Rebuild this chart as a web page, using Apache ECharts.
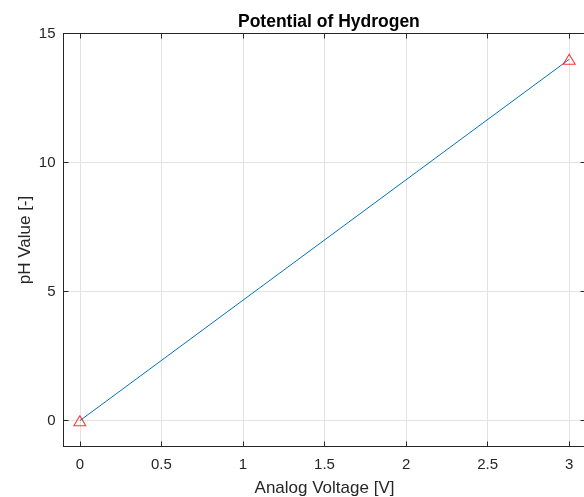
<!DOCTYPE html>
<html>
<head>
<meta charset="utf-8">
<script src="https://cdn.jsdelivr.net/npm/echarts@6/dist/echarts.min.js"></script>
<style>
    html, body { margin: 0; padding: 0; background: #fff; }
    #chart { width: 584px; height: 497px; }
</style>
</head>
<body>
<div id="chart"></div>
<script>
// measured points (analog voltage -> pH)
const voltage = [0, 3]
const phValue = [0, 14]
const xTicks = [0, 0.5, 1, 1.5, 2, 2.5, 3]
const yTicks = [0, 5, 10, 15]

const axisColor = "#262626"
const gridColor = "#e3e3e3"
const font = "'Liberation Sans', Arial, sans-serif"

const points = voltage.map((v, i) => [v, phValue[i]])

function baseAxis(ticks, extra) {
    return Object.assign({
        type: "value",
        axisLine: { show: true, onZero: false, lineStyle: { color: axisColor, width: 1 } },
        axisTick: { show: true, inside: true, length: 5, customValues: ticks, lineStyle: { color: axisColor } },
        axisLabel: {
            customValues: ticks,
            color: axisColor,
            fontFamily: font,
            fontSize: 15,
        },
        splitLine: { show: false },
    }, extra)
}

const chart = echarts.init(document.getElementById("chart"))
chart.setOption({
    animation: false,
    title: {
        text: "Potential of Hydrogen",
        left: 233,
        top: 8,
        textStyle: { fontFamily: font, fontSize: 17.5, fontWeight: "bold", color: "#000" },
    },
    grid: { left: 63.5, top: 33.5, width: 522, height: 413, outerBoundsMode: "none" },
    xAxis: [
        baseAxis(xTicks, {
            min: -0.1,
            max: 3.1,
            position: "bottom",
            name: "Analog Voltage [V]",
            nameLocation: "middle",
            nameGap: 33,
            nameMoveOverlap: false,
            nameTextStyle: { fontFamily: font, fontSize: 17, color: axisColor },
            axisLabel: {
                customValues: xTicks,
                color: axisColor,
                fontFamily: font,
                fontSize: 15,
                margin: 11,
                formatter: v => String(v),
            },
            splitLine: { show: true, lineStyle: { color: gridColor, width: 1 } },
        }),
        baseAxis(xTicks, {
            min: -0.1,
            max: 3.1,
            position: "top",
            axisLabel: { show: false },
        }),
    ],
    yAxis: [
        baseAxis(yTicks, {
            min: -1,
            max: 15,
            position: "left",
            name: "pH Value [-]",
            nameLocation: "middle",
            nameGap: 30,
            nameMoveOverlap: false,
            nameTextStyle: { fontFamily: font, fontSize: 17, color: axisColor },
            axisLabel: {
                customValues: yTicks,
                color: axisColor,
                fontFamily: font,
                fontSize: 15,
                margin: 8,
            },
            splitLine: { show: true, lineStyle: { color: gridColor, width: 1 } },
        }),
        baseAxis(yTicks, {
            min: -1,
            max: 15,
            position: "right",
            axisLabel: { show: false },
        }),
    ],
    series: [
        {
            type: "line",
            data: points,
            showSymbol: false,
            lineStyle: { color: "#0072BD", width: 1 },
            z: 2,
        },
        {
            type: "scatter",
            data: points,
            symbol: "triangle",
            symbolSize: [12, 10],
            itemStyle: { color: "rgba(0,0,0,0)", borderColor: "#ff0000", borderWidth: 1 },
            z: 3,
        },
    ],
})
</script>
</body>
</html>
